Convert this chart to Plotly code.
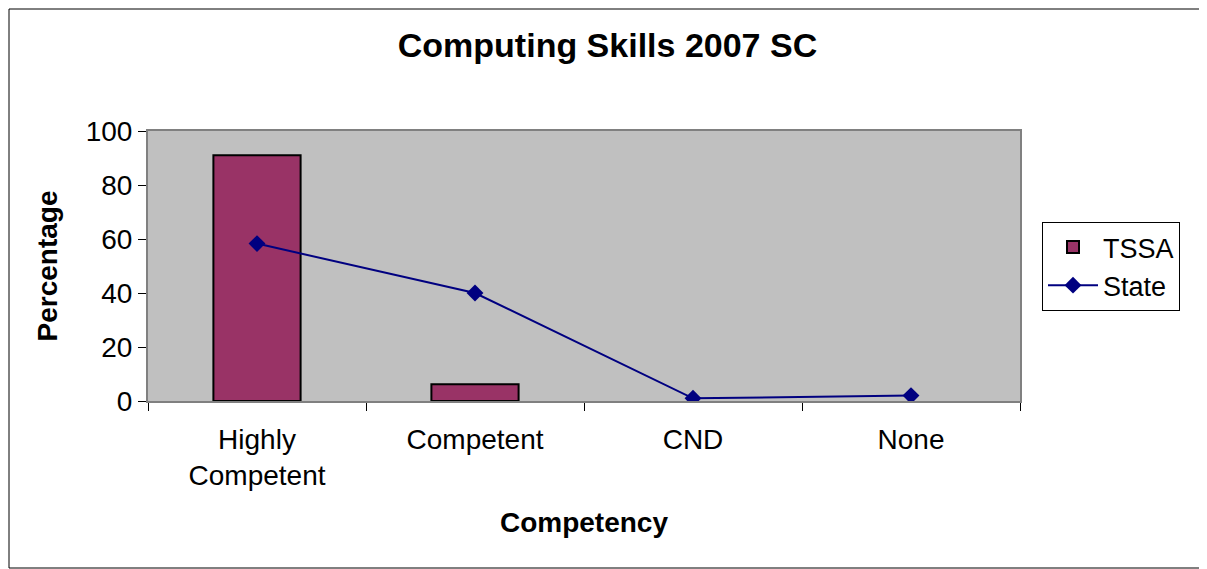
import plotly.graph_objects as go

categories = ["Highly<br>Competent", "Competent", "CND", "None"]
tssa = [91, 6.2, None, None]
state = [58.3, 40, 1, 2]

# page body adds an 8px margin, so shift the figure back
OFF = 8
W, H = 1207 - OFF, 569 - OFF
L, R, T, B = 148 - OFF, 187, 131 - OFF, 168
pw, ph = W - L - R, H - T - B

fig = go.Figure()
fig.add_trace(go.Bar(
    x=categories, y=tssa, name="TSSA",
    marker=dict(color="#993366", line=dict(color="black", width=2)),
    width=0.4
))
fig.add_trace(go.Scatter(
    x=categories, y=state, name="State", mode="lines+markers",
    line=dict(color="#000080", width=2),
    marker=dict(symbol="diamond", size=13, color="#000080")
))

fig.update_layout(
    width=W, height=H,
    margin=dict(l=L, r=R, t=T, b=B),
    paper_bgcolor="white",
    plot_bgcolor="#C0C0C0",
    font=dict(family="Liberation Sans, Arial", size=28, color="black"),
    title=dict(text="<b>Computing Skills 2007 SC</b>", x=0.5, xanchor="center",
               y=1 - (45 - OFF) / H, yanchor="middle", font=dict(size=34)),
    showlegend=True,
    legend=dict(x=(1042 - 148) / pw, y=(401 - 222) / ph, xanchor="left", yanchor="top",
                bordercolor="black", borderwidth=1, bgcolor="white",
                font=dict(size=27), tracegroupgap=0, itemwidth=50),
    bargap=0.6,
)
fig.update_xaxes(
    type="category", tickson="boundaries", ticks="outside", ticklen=8,
    tickcolor="black", showline=True, linecolor="#808080", linewidth=2, mirror=True,
    showgrid=False, ticklabelstandoff=12,
    title=dict(text="<b>Competency</b>", font=dict(size=28), standoff=22),
)
fig.update_yaxes(
    range=[0, 100], dtick=20, ticks="outside", ticklen=8, tickcolor="black",
    showline=True, linecolor="#808080", linewidth=2, mirror=True, showgrid=False,
    zeroline=False,
    title=dict(text="<b>Percentage</b>", font=dict(size=28), standoff=20),
)
# outer chart border
fig.add_shape(type="rect", xref="paper", yref="paper",
              x0=-(L - 1) / pw, x1=1 + (R - 1) / pw,
              y0=-(B - 1) / ph, y1=1 + (T - 1) / ph,
              line=dict(color="black", width=1))

fig.write_html("out.html")
